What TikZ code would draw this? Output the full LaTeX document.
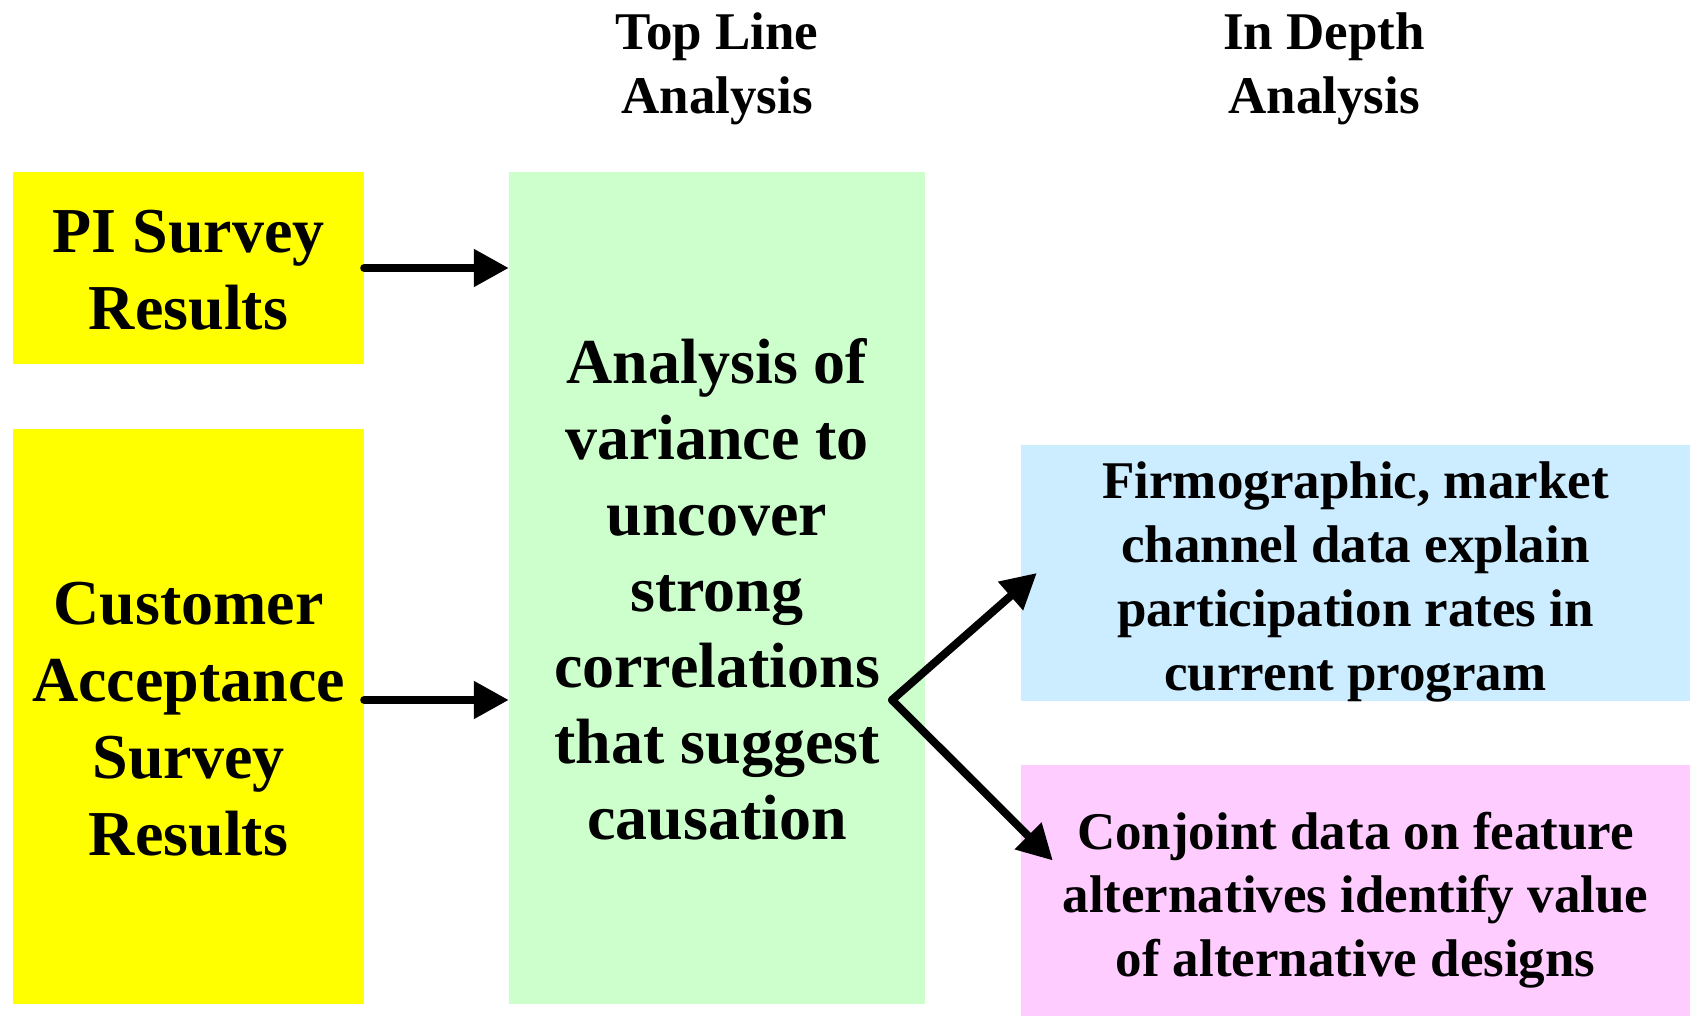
\documentclass[tikz,border=0pt]{standalone}
\usepackage{fontspec}
\setmainfont{Liberation Serif}
\usetikzlibrary{arrows.meta}
\definecolor{ylw}{HTML}{FFFF00}
\definecolor{grn}{HTML}{CCFFCC}
\definecolor{blu}{HTML}{CCECFF}
\definecolor{pnk}{HTML}{FFCCFF}
\tikzset{
  box/.style={rectangle, inner sep=0pt},
  txt/.style={rectangle, inner sep=0pt, align=center, text=black},
  bigtxt/.style={txt, font=\fontsize{64}{77}\selectfont\bfseries},
  greentxt/.style={txt, font=\fontsize{64}{76}\selectfont\bfseries},
  smalltxt/.style={txt, font=\fontsize{53}{63.7}\selectfont\bfseries},
  arr/.style={line width=8pt, line cap=round, -{Triangle[length=35pt,width=36pt]}}
}
\begin{document}
\begin{tikzpicture}[x=1pt,y=-1pt]
\useasboundingbox (0,0) rectangle (1690,1016);
\node[box, fill=ylw, minimum width=351pt, minimum height=192pt] (pi) at (188.5,268) {};
\node[bigtxt] (pit) at ([yshift=-2.5pt]pi.center) {PI Survey\\Results};
\node[box, fill=ylw, minimum width=351pt, minimum height=575pt] (cust) at (188.5,716.5) {};
\node[bigtxt] (custt) at ([yshift=-2.5pt]cust.center) {Customer\\Acceptance\\Survey\\Results};
\node[box, fill=grn, minimum width=416pt, minimum height=832pt] (green) at (717,588) {};
\node[greentxt] (greent) at ([yshift=-1pt]green.center) {Analysis of\\variance to\\uncover\\strong\\correlations\\that suggest\\causation};
\node[box, fill=blu, minimum width=669pt, minimum height=256pt] (blue) at (1355.5,573) {};
\node[smalltxt] (bluet) at ([yshift=-9pt]blue.center) {Firmographic, market\\channel data explain\\participation rates in\\current program};
\node[box, fill=pnk, minimum width=669pt, minimum height=251pt] (pink) at (1355.5,890.5) {};
\node[smalltxt] (pinkt) at ([yshift=-9.5pt]pink.center) {Conjoint data on feature\\alternatives identify value\\of alternative designs};
\node[smalltxt] (t1) at (717,68.5) {Top Line\\Analysis};
\node[smalltxt] (t2) at (1324,68.5) {In Depth\\Analysis};
\draw[arr] (pi.east) -- (pi.east -| green.west);
\draw[arr] ([yshift=16.5pt]cust.east) -- ([yshift=16.5pt]cust.east -| green.west);
\coordinate (br) at (892,700);
\draw[arr] (br) -- ([xshift=16pt]blue.west);
\draw[arr] (br) -- ([xshift=32pt,yshift=30pt]pink.west);
\end{tikzpicture}
\end{document}
